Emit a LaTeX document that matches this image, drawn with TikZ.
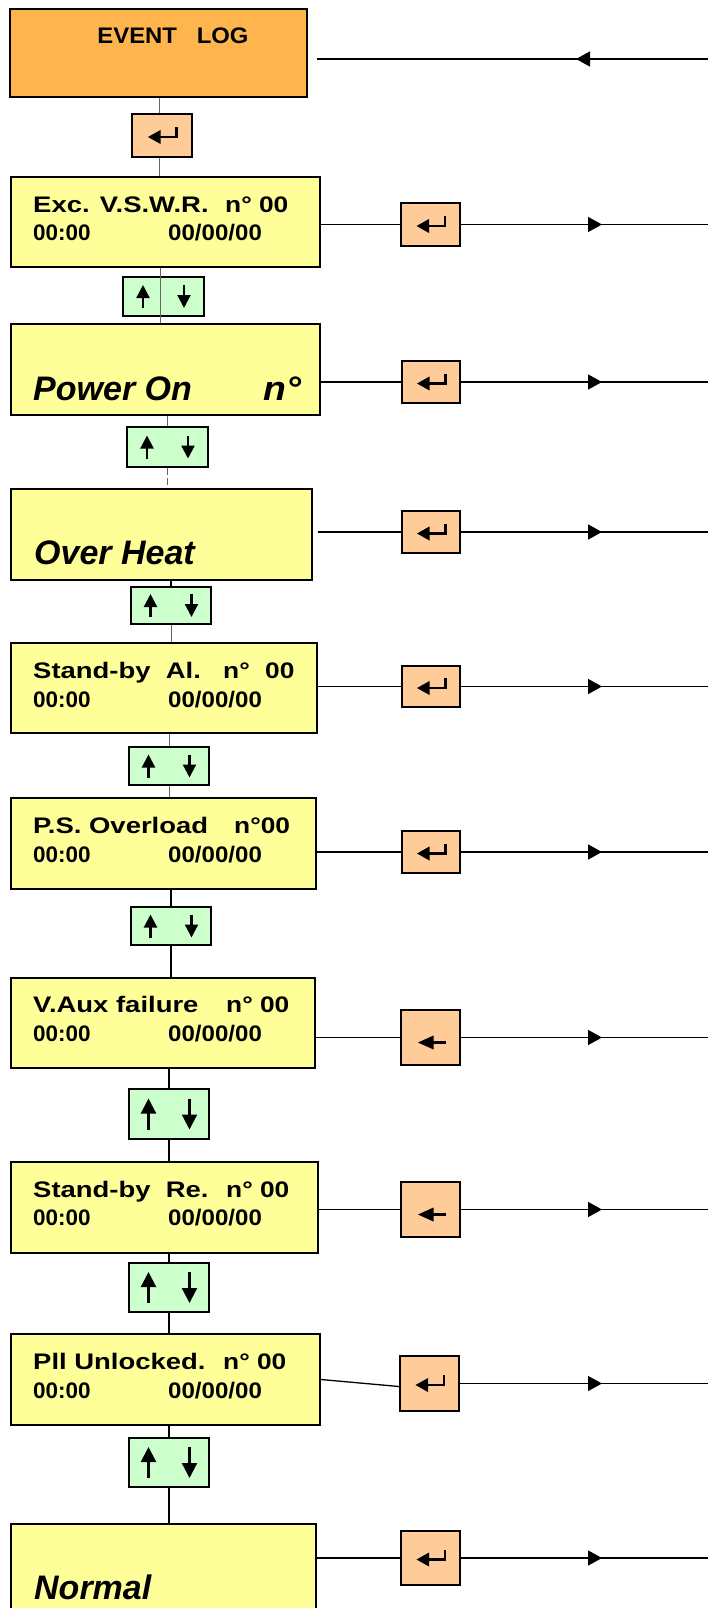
\documentclass[tikz,border=0pt]{standalone}
\usepackage{fontspec}
\setmainfont{Liberation Sans}
\usetikzlibrary{arrows.meta,calc,decorations.markings}
\definecolor{evorange}{HTML}{FFB54D}
\definecolor{keyorange}{HTML}{FFCC99}
\definecolor{lcdyellow}{HTML}{FFFF99}
\definecolor{navgreen}{HTML}{CCFFCC}
\definecolor{thingray}{HTML}{666666}
\tikzset{
  lcd/.style={draw=black, line width=2pt, fill=lcdyellow, inner sep=0pt},
  evbox/.style={draw=black, line width=2pt, fill=evorange, inner sep=0pt},
  keybox/.style={draw=black, line width=2pt, fill=keyorange, inner sep=0pt},
  navbox/.style={draw=black, line width=2pt, fill=navgreen, inner sep=0pt},
  lcdtxt/.style={anchor=base west, inner sep=0pt, font=\fontsize{22.5}{27}\selectfont\bfseries},
  bigtxt/.style={anchor=base west, inner sep=0pt, font=\fontsize{34}{40}\selectfont\bfseries\itshape},
  conng/.style={line width=1pt, draw=thingray},
  connb/.style={line width=1.3pt, draw=black},
  rline/.style={draw=black, line width=1.5pt, postaction={decorate},
    decoration={markings, mark=at position #1 with {\arrow{Triangle[length=14pt,width=15pt]}}}},
  udarrow/.style={line width=2.2pt, -{Triangle[length=#1pt,width=#1pt]}},
}
\newcommand\lcdW[1]{\scalebox{1.22}[1]{#1}}
\newcommand\lcdN[1]{\scalebox{1.17}[1]{#1}}
\newcommand\lcdD[1]{\scalebox{1.07}[1]{#1}}
\newcommand\mkbox[6]{\node[#1, minimum width={(#5-#3)*1pt}, minimum height={(#6-#4)*1pt}] (#2) at ({(#3+#5)/2},{(#4+#6)/2}) {};}
\newcommand\entersym[1]{%
  \fill ($(#1)+(-14,1.5)$) -- ($(#1)+(-1.5,-5.5)$) -- ($(#1)+(-1.5,8.5)$) -- cycle;
  \draw[line width=2.4pt] ($(#1)+(-2,1.5)$) -- ($(#1)+(14.5,1.5)$) -- ($(#1)+(14.5,-8.5)$);}
\newcommand\leftsym[1]{%
  \fill ($(#1)+(-12.5,5)$) -- ($(#1)+(3,-2)$) -- ($(#1)+(3,12)$) -- cycle;
  \draw[line width=2.4pt] ($(#1)+(2,5)$) -- ($(#1)+(15.5,5)$);}
\newcommand\udsym[3]{%
  \draw[udarrow=#3] ($(#1)+(-20.5,#2)$) -- ($(#1)+(-20.5,-#2)$);
  \draw[udarrow=#3] ($(#1)+(20.5,-#2)$) -- ($(#1)+(20.5,#2)$);}
\begin{document}
\begin{tikzpicture}[x=1pt,y=-1pt]
\useasboundingbox (0,0) rectangle (708,1608);
\coordinate (edge) at (708,0);
% main boxes
\mkbox{evbox}{E}{10}{9}{307}{97}
\mkbox{lcd}{B2}{11}{177}{320}{267}
\mkbox{lcd}{B3}{11}{324}{320}{415}
\mkbox{lcd}{B4}{11}{489}{312}{580}
\mkbox{lcd}{B5}{11}{643}{317}{733}
\mkbox{lcd}{B6}{11}{798}{316}{889}
\mkbox{lcd}{B7}{11}{978}{315}{1068}
\mkbox{lcd}{B8}{11}{1162}{318}{1253}
\mkbox{lcd}{B9}{11}{1334}{320}{1425}
\mkbox{lcd}{B10}{11}{1524}{316}{1625}
% key boxes
\mkbox{keybox}{K1}{132}{114}{192}{157}
\mkbox{keybox}{K2}{401}{203}{460}{246}
\mkbox{keybox}{K3}{402}{361}{460}{403}
\mkbox{keybox}{K4}{402}{511}{460}{553}
\mkbox{keybox}{K5}{402}{666}{460}{707}
\mkbox{keybox}{K6}{402}{831}{460}{873}
\mkbox{keybox}{K7}{401}{1010}{460}{1065}
\mkbox{keybox}{K8}{401}{1182}{460}{1237}
\mkbox{keybox}{K9}{400}{1356}{459}{1411}
\mkbox{keybox}{K10}{401}{1531}{460}{1585}
% up/down boxes
\mkbox{navbox}{U2}{123}{277}{204}{316}
\mkbox{navbox}{U3}{127}{427}{208}{467}
\mkbox{navbox}{U4}{131}{587}{211}{624}
\mkbox{navbox}{U5}{129}{747}{209}{785}
\mkbox{navbox}{U6}{131}{907}{211}{945}
\mkbox{navbox}{U7}{129}{1089}{209}{1139}
\mkbox{navbox}{U8}{129}{1263}{209}{1312}
\mkbox{navbox}{U9}{129}{1438}{209}{1487}
% symbols
\entersym{K1}\entersym{K2}\entersym{K3}\entersym{K4}\entersym{K5}\entersym{K6}
\leftsym{K7}\leftsym{K8}
\entersym{K9}\entersym{K10}
\udsym{U2}{11.5}{13}\udsym{U3}{11.5}{13}\udsym{U4}{11.5}{13}\udsym{U5}{11.5}{13}\udsym{U6}{11.5}{13}
\udsym{U7}{15.5}{15}\udsym{U8}{15.5}{15}\udsym{U9}{15.5}{15}
% vertical connectors
\draw[conng] ([xshift=-3pt]K1.north) -- ([xshift=-3pt]K1.north |- E.south);
\draw[conng] ([xshift=-3pt]K1.south) -- ([xshift=-3pt]K1.south |- B2.north);
\draw[conng] ([xshift=-3.5pt]U2.north |- B2.south) -- ([xshift=-3.5pt]U2.south |- B3.north);
\draw[conng] (U3.north) -- (U3.north |- B3.south);
\draw[conng, dash pattern=on 7pt off 3pt] (U3.south) -- (U3.south |- B4.north);
\draw[connb] (U4.north) -- (U4.north |- B4.south);
\draw[conng] (U4.south) -- (U4.south |- B5.north);
\draw[conng] (U5.north) -- (U5.north |- B5.south);
\draw[conng] (U5.south) -- (U5.south |- B6.north);
\draw[connb] (U6.north) -- (U6.north |- B6.south);
\draw[connb] (U6.south) -- (U6.south |- B7.north);
\draw[connb] (U7.north) -- (U7.north |- B7.south);
\draw[connb] (U7.south) -- (U7.south |- B8.north);
\draw[connb] (U8.north) -- (U8.north |- B8.south);
\draw[connb] (U8.south) -- (U8.south |- B9.north);
\draw[connb] (U9.north) -- (U9.north |- B9.south);
\draw[connb] (U9.south) -- (U9.south |- B10.north);
% horizontal connectors box -> key
\draw[connb] (K2.west -| B2.east) -- (K2.west);
\draw[connb] (K3.west -| B3.east) -- (K3.west);
\draw[connb] ([xshift=5pt]K4.west -| B4.east) -- (K4.west);
\draw[connb] (K5.west -| B5.east) -- (K5.west);
\draw[connb] (K6.west -| B6.east) -- (K6.west);
\draw[connb] (K7.west -| B7.east) -- (K7.west);
\draw[connb] (K8.west -| B8.east) -- (K8.west);
\draw[connb] (B9.east) -- ([yshift=-3pt]K9.west);
\draw[connb] (K10.west -| B10.east) -- (K10.west);
% right lines
\coordinate (Etop) at ($(E.east)+(9,6)$);
\draw[rline=132pt] (Etop -| edge) -- (Etop);
\draw[rline=141pt] (K2.east) -- (K2.east -| edge);
\draw[rline=141pt] (K3.east) -- (K3.east -| edge);
\draw[rline=141pt] (K4.east) -- (K4.east -| edge);
\draw[rline=141pt] (K5.east) -- (K5.east -| edge);
\draw[rline=141pt] (K6.east) -- (K6.east -| edge);
\draw[rline=141pt] (K7.east) -- (K7.east -| edge);
\draw[rline=141pt] (K8.east) -- (K8.east -| edge);
\draw[rline=142pt] (K9.east) -- (K9.east -| edge);
\draw[rline=141pt] (K10.east) -- (K10.east -| edge);
% texts
\node[anchor=base, inner sep=0pt, font=\fontsize{22.5}{27}\selectfont\bfseries] (tE) at (173,44) {\scalebox{1.06}[1]{EVENT\ \ \ LOG}};
\node[lcdtxt] (t2a) at (33,212.7) {\lcdW{Exc. V.S.W.R.}};
\node[lcdtxt] (t2b) at (225,212.7) {\lcdN{n° 00}};
\node[lcdtxt] (t2c) at (33,240) {00:00};
\node[lcdtxt] (t2d) at (168,240) {\lcdD{00/00/00}};
\node[bigtxt] (t3a) at (33,400) {Power On};
\node[bigtxt] (t3b) at (263,400) {\scalebox{1.1}[1]{n°}};
\node[bigtxt] (t4a) at (34,564) {Over Heat};
\node[lcdtxt] (t5a) at (33,678) {\lcdW{Stand-by\ \ Al.}};
\node[lcdtxt] (t5b) at (223,678) {\lcdN{n°}};
\node[lcdtxt] (t5c) at (265,678) {\lcdN{00}};
\node[lcdtxt] (t5d) at (33,707) {00:00};
\node[lcdtxt] (t5e) at (168,707) {\lcdD{00/00/00}};
\node[lcdtxt] (t6a) at (33,833) {\lcdW{P.S. Overload}};
\node[lcdtxt] (t6b) at (234,833) {\lcdN{n°00}};
\node[lcdtxt] (t6c) at (33,862) {00:00};
\node[lcdtxt] (t6d) at (168,862) {\lcdD{00/00/00}};
\node[lcdtxt] (t7a) at (33,1012) {\lcdW{V.Aux failure}};
\node[lcdtxt] (t7b) at (226,1012) {\lcdN{n° 00}};
\node[lcdtxt] (t7c) at (33,1041) {00:00};
\node[lcdtxt] (t7d) at (168,1041) {\lcdD{00/00/00}};
\node[lcdtxt] (t8a) at (33,1197) {\lcdW{Stand-by\ \ Re.}};
\node[lcdtxt] (t8b) at (226,1197) {\lcdN{n° 00}};
\node[lcdtxt] (t8c) at (33,1225) {00:00};
\node[lcdtxt] (t8d) at (168,1225) {\lcdD{00/00/00}};
\node[lcdtxt] (t9a) at (33,1369) {\lcdW{Pll Unlocked.}};
\node[lcdtxt] (t9b) at (223,1369) {\lcdN{n° 00}};
\node[lcdtxt] (t9c) at (33,1398) {00:00};
\node[lcdtxt] (t9d) at (168,1398) {\lcdD{00/00/00}};
\node[bigtxt] (t10a) at (34,1599) {Normal};
\end{tikzpicture}
\end{document}
